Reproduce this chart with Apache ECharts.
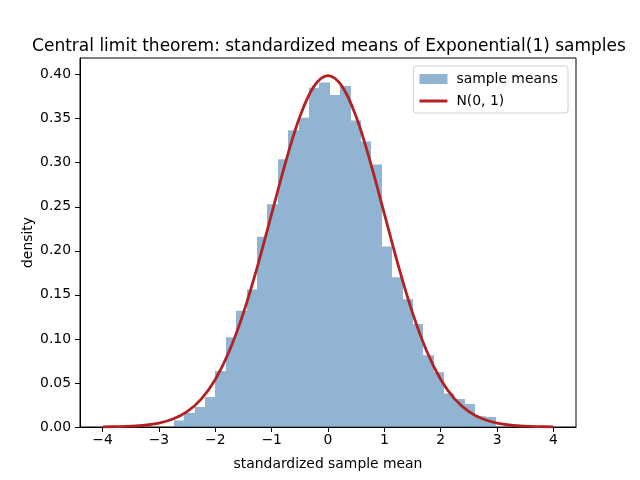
<!DOCTYPE html>
<html>
<head>
<meta charset="utf-8">
<script src="https://cdn.jsdelivr.net/npm/echarts@6/dist/echarts.min.js"></script>
<style>html,body{margin:0;padding:0;background:#fff}#c{width:640px;height:480px}</style>
</head>
<body>
<div id="c"></div>
<script>
// Histogram bins: left edges and common bin width (data units)
const binLeft = [-2.733,-2.549,-2.364,-2.180,-1.996,-1.812,-1.627,-1.443,-1.259,-1.074,-0.890,-0.706,-0.521,-0.337,-0.153,0.032,0.216,0.400,0.585,0.769,0.953,1.138,1.322,1.506,1.691,1.875,2.059,2.243,2.428,2.612,2.796];
const binWidth = 0.1843;
const binDensity = [0.0075,0.016,0.0227,0.034,0.0635,0.102,0.132,0.156,0.216,0.253,0.304,0.337,0.351,0.385,0.391,0.377,0.387,0.348,0.324,0.298,0.205,0.170,0.145,0.117,0.0815,0.0623,0.038,0.0317,0.026,0.0122,0.0113];
// N(0,1) curve read at x points
const curveX = [-4,-3.75,-3.5,-3.25,-3,-2.75,-2.5,-2.25,-2,-1.75,-1.5,-1.25,-1,-0.75,-0.5,-0.25,0,0.25,0.5,0.75,1,1.25,1.5,1.75,2,2.25,2.5,2.75,3,3.25,3.5,3.75,4];
const curveY = [0.0001,0.0004,0.0009,0.0020,0.0044,0.0091,0.0175,0.0317,0.0540,0.0863,0.1295,0.1826,0.2420,0.3011,0.3521,0.3867,0.3989,0.3867,0.3521,0.3011,0.2420,0.1826,0.1295,0.0863,0.0540,0.0317,0.0175,0.0091,0.0044,0.0020,0.0009,0.0004,0.0001];
const xTicks = [-4,-3,-2,-1,0,1,2,3,4];
const yTicks = [0,0.05,0.10,0.15,0.20,0.25,0.30,0.35,0.40];

const histData = binLeft.map((l, i) => [l, i + 1 < binLeft.length ? binLeft[i + 1] : l + binWidth, binDensity[i]]);
const lineData = curveX.map((x, i) => [x, curveY[i]]);
const font = 'DejaVu Sans';

const chart = echarts.init(document.getElementById('c'), null, {renderer: 'canvas'});
chart.setOption({
  animation: false,
  backgroundColor: '#fff',
  textStyle: {fontFamily: font},
  title: {
    text: 'Central limit theorem: standardized means of Exponential(1) samples',
    left: 324, textAlign: 'center', top: 33,
    textStyle: {fontFamily: font, fontSize: 17, fontWeight: 'normal', color: '#000'}
  },
  grid: {left: 80, right: 64, top: 58, bottom: 53, show: true, borderColor: '#000', borderWidth: 1, backgroundColor: 'transparent'},
  legend: {
    right: 72, top: 66, orient: 'vertical',
    backgroundColor: '#fff', borderColor: '#d0d0d0', borderWidth: 1, borderRadius: 3,
    padding: [6, 10, 5, 6], itemGap: 8, itemWidth: 28, itemHeight: 10,
    textStyle: {fontFamily: font, fontSize: 13.9, color: '#000', padding: [0, 0, 0, 4]},
    data: [
      {name: 'sample means', icon: 'rect'},
      {name: 'N(0, 1)', icon: 'path://M0,0 L28,0 L28,3 L0,3 Z'}
    ]
  },
  xAxis: {
    type: 'value', min: -4.4, max: 4.4,
    name: 'standardized sample mean', nameLocation: 'middle', nameGap: 30,
    nameTextStyle: {fontFamily: font, fontSize: 13.9, color: '#000'},
    splitLine: {show: false},
    axisLine: {show: true, onZero: false, lineStyle: {color: '#000', width: 1}},
    axisTick: {show: true, length: 5, customValues: xTicks, lineStyle: {color: '#000'}},
    axisLabel: {customValues: xTicks, margin: 6, fontFamily: font, fontSize: 13.9, color: '#000',
      formatter: v => String(v).replace('-', '\u2212')}
  },
  yAxis: {
    type: 'value', min: 0, max: 0.4189,
    name: 'density', nameLocation: 'middle', nameGap: 45, nameRotate: 90, nameMoveOverlap: false,
    nameTextStyle: {fontFamily: font, fontSize: 13.9, color: '#000'},
    splitLine: {show: false},
    axisLine: {show: true, onZero: false, lineStyle: {color: '#000', width: 1}},
    axisTick: {show: true, length: 5, customValues: yTicks, lineStyle: {color: '#000'}},
    axisLabel: {customValues: yTicks, margin: 9, fontFamily: font, fontSize: 13.9, color: '#000',
      formatter: v => v.toFixed(2)}
  },
  series: [
    {
      name: 'sample means', type: 'custom',
      itemStyle: {color: 'rgba(70,130,180,0.6)'},
      encode: {x: [0, 1], y: 2},
      renderItem: function (params, api) {
        const p0 = api.coord([api.value(0), 0]);
        const p1 = api.coord([api.value(1), api.value(2)]);
        const x0 = Math.round(p0[0]), x1 = Math.round(p1[0]);
        return {
          type: 'rect',
          shape: {x: x0, y: p1[1], width: x1 - x0, height: p0[1] - p1[1]},
          style: {fill: 'rgba(70,130,180,0.6)'}
        };
      },
      data: histData, z: 1
    },
    {
      name: 'N(0, 1)', type: 'line', data: lineData, smooth: 0.35,
      symbol: 'none', showSymbol: false,
      lineStyle: {color: '#b22222', width: 2.8},
      itemStyle: {color: '#b22222'}, z: 3
    }
  ]
});
</script>
</body>
</html>
